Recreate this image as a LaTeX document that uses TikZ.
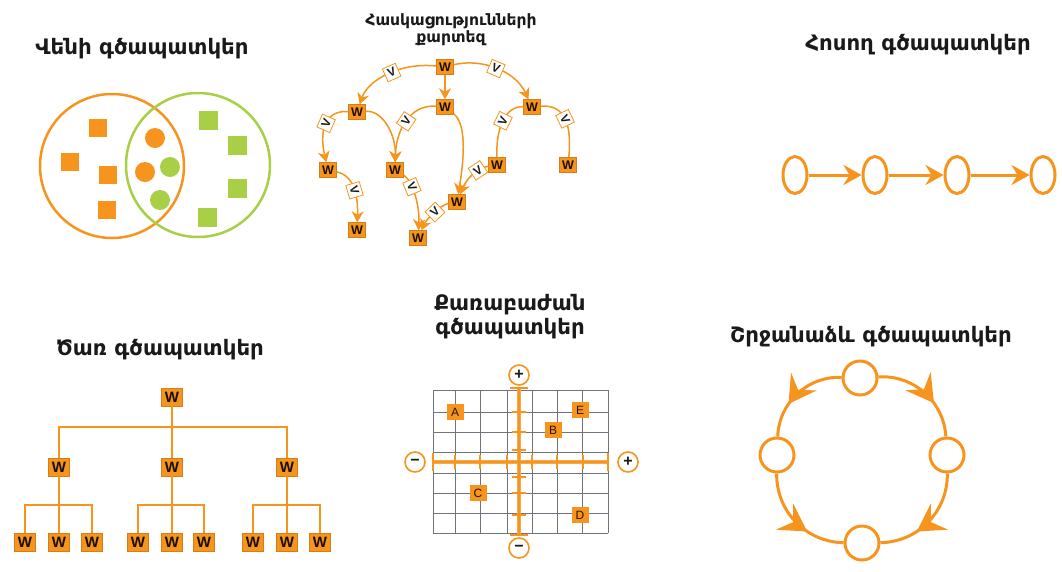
\documentclass[tikz,border=0pt]{standalone}
\usepackage{fontspec}
\setmainfont{DejaVu Sans}
\newfontfamily\armfont{DejaVu Sans}
\newfontfamily\wfont{Liberation Sans}
\usetikzlibrary{arrows.meta,decorations.markings,shapes.geometric}
\definecolor{orng}{HTML}{F7941D}
\definecolor{limeg}{HTML}{A8CF45}
\definecolor{txt}{HTML}{1A1A1A}
\definecolor{gridc}{HTML}{6E7480}
\begin{document}
\begin{tikzpicture}[x=1pt,y=1pt,
  ttl/.style={font=\armfont\bfseries\fontsize{21.3}{24}\selectfont, text=txt, align=center, inner sep=0pt},
  sttl/.style={font=\armfont\bfseries\fontsize{15.6}{17}\selectfont, text=txt, align=center, inner sep=0pt},
  wbox/.style={fill=orng, draw=orng!85!black, line width=0.4pt, minimum width=17pt, minimum height=15pt, inner sep=0pt, font=\wfont\bfseries\fontsize{12.5}{12.5}\selectfont, text=black!90!orng},
  vbox/.style={fill=white, draw=orng, line width=0.8pt, minimum width=14pt, minimum height=14pt, inner sep=0pt, font=\wfont\bfseries\fontsize{12}{12}\selectfont, text=txt, sloped},
  cmline/.style={draw=orng, line width=1.5pt},
  cmarr/.style={cmline, -{Stealth[length=11pt,width=12pt,inset=3.5pt]}},
  osq/.style={fill=orng, minimum size=18pt, inner sep=0pt},
  gsq/.style={fill=limeg, minimum size=19pt, inner sep=0pt},
  odot/.style={fill=orng, circle, minimum size=20pt, inner sep=0pt},
  gdot/.style={fill=limeg, circle, minimum size=20pt, inner sep=0pt},
  chn/.style={draw=orng, line width=3pt, ellipse, minimum width=24pt, minimum height=37pt, inner sep=0pt},
  chna/.style={draw=orng, line width=3pt, -{Stealth[length=18pt,width=20pt,inset=6pt]}},
  tln/.style={draw=orng, line width=2.8pt},
  tbox/.style={wbox, minimum width=21pt, minimum height=18pt, font=\wfont\bfseries\fontsize{15}{15}\selectfont},
  lbox/.style={fill=orng, minimum width=17pt, minimum height=16pt, inner sep=0pt, font=\wfont\fontsize{12}{12}\selectfont, text=black!85!orng},
  pmc/.style={draw=orng, fill=white, circle, line width=1.6pt, minimum size=20pt, inner sep=0pt, font=\wfont\bfseries\fontsize{16}{16}\selectfont, text=txt},
  axisln/.style={draw=orng!80, line width=4pt},
  axisc/.style={draw=orng, line width=1.6pt},
  tickln/.style={draw=orng, line width=1.8pt},
  cyc/.style={draw=orng, fill=white, circle, line width=3pt, minimum size=34pt, inner sep=0pt},
  ringln/.style={draw=orng, line width=3pt, postaction={decorate},
    decoration={markings, mark=at position 0.64 with {\arrow{Stealth[length=27pt,width=31pt,inset=10pt]}}}}
]
\useasboundingbox (0,0) rectangle (1062,-571);
\fill[white] (0,0) rectangle (1062,-571);

% ---------- Venn ----------
\node[ttl] (tvenn) at (142,-49) {Վենի գծապատկեր};
\node[draw=orng, line width=2.5pt, circle, minimum size=144pt, inner sep=0pt] (vo) at (112,-166) {};
\node[draw=limeg, line width=2.5pt, circle, minimum size=144pt, inner sep=0pt] (vg) at (198,-165) {};
\node[osq] (os1) at (98,-128) {};
\node[osq] (os2) at (70,-162) {};
\node[osq] (os3) at (108,-175) {};
\node[osq] (os4) at (107,-210) {};
\node[odot] (od1) at (155,-138) {};
\node[odot] (od2) at (145,-172) {};
\node[gdot] (gd1) at (170,-167) {};
\node[gdot] (gd2) at (160,-200) {};
\node[gsq] (gs1) at (208,-120) {};
\node[gsq] (gs2) at (237,-145) {};
\node[gsq] (gs3) at (237,-188) {};
\node[gsq] (gs4) at (207,-217) {};

% ---------- Concept map ----------
\node[sttl] (tcm) at (451,-30) {Հասկացությունների\\քարտեզ};
\node[wbox] (W0) at (445,-67) {W};
\node[wbox] (W1) at (357,-112) {W};
\node[wbox] (W2) at (445,-107) {W};
\node[wbox] (W3) at (532,-107) {W};
\node[wbox] (W4) at (328,-170) {W};
\node[wbox] (W5) at (395,-170) {W};
\node[wbox] (W6) at (497,-165) {W};
\node[wbox] (W7) at (568,-165) {W};
\node[wbox] (W8) at (457,-202) {W};
\node[wbox] (W9) at (357,-230) {W};
\node[wbox] (W10) at (418,-238) {W};
\draw[cmarr] (W0) .. controls (400,-62) and (368,-80) .. (W1) node[vbox,pos=0.45] {V};
\draw[cmarr] (W0) .. controls (480,-58) and (515,-70) .. (W3) node[vbox,pos=0.5] {V};
\draw[cmarr] (W0) -- (W2);
\draw[cmarr] (W1) .. controls (322,-110) and (320,-135) .. (W4) node[vbox,pos=0.45] {V};
\draw[cmarr] (W1) .. controls (383,-110) and (396,-135) .. (W5);
\draw[cmarr] (W2) .. controls (410,-104) and (396,-130) .. (W5) node[vbox,pos=0.5] {V};
\draw[cmarr] (W2) .. controls (468,-125) and (463,-165) .. (W8);
\draw[cmline] (W3) .. controls (505,-106) and (496,-128) .. (W6) node[vbox,pos=0.5] {V};
\draw[cmline] (W3) .. controls (565,-104) and (572,-125) .. (W7) node[vbox,pos=0.5] {V};
\draw[cmarr] (W4) .. controls (356,-176) and (358,-200) .. (W9) node[vbox,pos=0.5] {V};
\draw[cmarr] (W5) .. controls (412,-180) and (420,-205) .. (W10) node[vbox,pos=0.35] {V};
\draw[cmarr] (W6) .. controls (476,-168) and (466,-180) .. (W8) node[vbox,pos=0.3] {V};
\draw[cmarr] (W8) .. controls (440,-205) and (426,-220) .. (W10) node[vbox,pos=0.45] {V};

% ---------- Chain ----------
\node[ttl] (tchain) at (918,-45) {Հոսող գծապատկեր};
\node[chn] (c1) at (795,-175) {};
\node[chn] (c2) at (875,-175) {};
\node[chn] (c3) at (957,-175) {};
\node[chn] (c4) at (1043,-175) {};
\draw[chna] (c1) -- (c2);
\draw[chna] (c2) -- (c3);
\draw[chna] (c3) -- (c4);

% ---------- Tree ----------
\node[ttl] (ttree) at (160,-350) {Ծառ գծապատկեր};
\node[tbox] (r) at (172,-397) {W};
\node[tbox] (m1) at (59,-467) {W};
\node[tbox] (m2) at (172,-467) {W};
\node[tbox] (m3) at (287,-467) {W};
\foreach \i/\x in {1/25,2/59,3/92,4/138,5/172,6/204,7/253,8/287,9/320}
  \node[tbox] (l\i) at (\x,-542) {W};
\coordinate (bar0) at (172,-427);
\coordinate (bar1) at (59,-505);
\coordinate (bar2) at (172,-505);
\coordinate (bar3) at (287,-505);
\draw[tln] (r) -- (m2);
\draw[tln] (m1) |- (bar0) -| (m3);
\draw[tln] (l1) |- (bar1) -| (l3);
\draw[tln] (m1) -- (l2);
\draw[tln] (l4) |- (bar2) -| (l6);
\draw[tln] (m2) -- (l5);
\draw[tln] (l7) |- (bar3) -| (l9);
\draw[tln] (m3) -- (l8);

% ---------- Quadrant ----------
\node[ttl] (tquad) at (510,-317) {Քառաբաժան\\գծապատկեր};
\foreach \x in {433,455,480,507,532,557,582,608}
  \draw[gridc, line width=1pt] (\x,-390) -- (\x,-533);
\foreach \y in {390,412,432,452,473,493,513,533}
  \draw[gridc, line width=1pt] (433,-\y) -- (608,-\y);
\node[pmc] (qt) at (519,-375) {+};
\node[pmc] (qb) at (519,-548) {−};
\node[pmc] (ql) at (415,-462) {−};
\node[pmc] (qr) at (628,-462) {+};
\draw[axisln, shorten <=7pt, shorten >=9pt] (ql) -- (qr);
\draw[axisln, shorten <=2pt, shorten >=2pt] (qt) -- (qb);
\draw[axisc, shorten <=7pt, shorten >=9pt] (ql) -- (qr);
\draw[axisc, shorten <=2pt, shorten >=2pt] (qt) -- (qb);
\foreach \x in {455,480,507,532,557,583}
  \draw[tickln] (\x,-455) -- (\x,-469);
\foreach \x in {433,608}
  \draw[tickln, line width=2.4pt] (\x,-453) -- (\x,-471);
\foreach \y in {412,432,450,477,493,515}
  \draw[tickln] (512,-\y) -- (526,-\y);
\foreach \y in {388,535}
  \draw[tickln, line width=2.4pt] (510,-\y) -- (528,-\y);
\node[lbox] (qa) at (455,-412) {A};
\node[lbox] (qe) at (580,-410) {E};
\node[lbox] (qbb) at (553,-430) {B};
\node[lbox] (qc) at (478,-493) {C};
\node[lbox] (qd) at (580,-515) {D};

% ---------- Cycle ----------
\node[ttl] (tcyc) at (871,-337) {Շրջանաձև գծապատկեր};
\node[cyc] (ct) at (860,-378) {};
\node[cyc] (cl) at (777,-455) {};
\node[cyc] (cr) at (947,-455) {};
\node[cyc] (cb) at (862,-543) {};
\draw[ringln] (ct) to[bend left=45] (cr);
\draw[ringln] (ct) to[bend right=45] (cl);
\draw[ringln] (cl) to[bend right=45] (cb);
\draw[ringln] (cr) to[bend left=45] (cb);
\end{tikzpicture}
\end{document}
